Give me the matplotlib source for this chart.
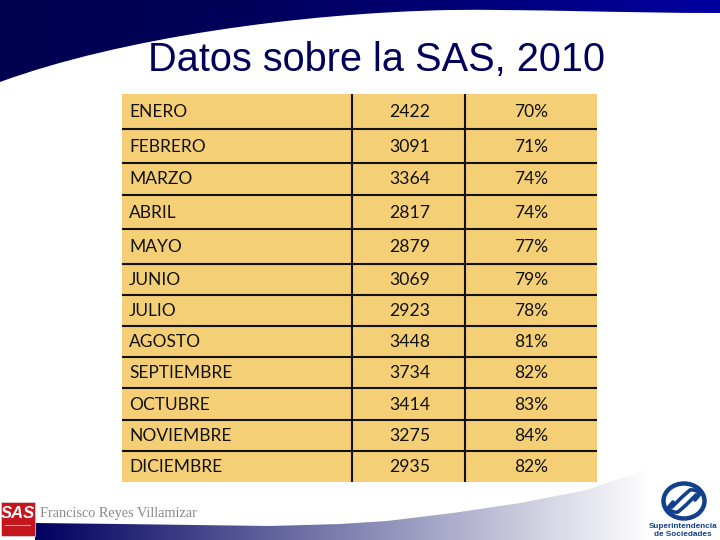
import matplotlib
matplotlib.use("Agg")
import matplotlib.pyplot as plt
import numpy as np
from matplotlib.path import Path
from matplotlib.patches import PathPatch, Rectangle, Ellipse
from matplotlib.colors import LinearSegmentedColormap

months = ["ENERO", "FEBRERO", "MARZO", "ABRIL", "MAYO", "JUNIO", "JULIO",
          "AGOSTO", "SEPTIEMBRE", "OCTUBRE", "NOVIEMBRE", "DICIEMBRE"]
counts = [2422, 3091, 3364, 2817, 2879, 3069, 2923, 3448, 3734, 3414, 3275, 2935]
percents = [70, 71, 74, 74, 77, 79, 78, 81, 82, 83, 84, 82]

# row edges in pixels, the rows are not all the same height
row_edges = [94, 129, 163, 195, 229, 264, 295, 326, 357, 388, 420, 451, 482]

fig = plt.figure(figsize=(7.2, 5.4), dpi=100)
ax = fig.add_axes([0, 0, 1, 1])
ax.axis("off")

# top swoosh
top_cmap = LinearSegmentedColormap.from_list("top", ["#000050", "#00005a", "#00007a", "#0000a0"])
top_codes = [Path.MOVETO, Path.LINETO, Path.LINETO, Path.CURVE4, Path.CURVE4, Path.CURVE4,
             Path.CURVE4, Path.CURVE4, Path.CURVE4, Path.LINETO, Path.CLOSEPOLY]
top_verts = [(0, 0), (720, 0), (720, 13), (620, 13), (530, 9), (450, 10),
             (300, 13), (120, 38), (0, 82), (0, 82), (0, 0)]
top_patch = PathPatch(Path(top_verts, top_codes), fc="none", ec="none")
ax.add_patch(top_patch)
im = ax.imshow(np.linspace(0, 1, 256).reshape(1, -1), extent=(0, 720, 90, 0), cmap=top_cmap, aspect="auto")
im.set_clip_path(top_patch)

# bottom swoosh
bottom_cmap = LinearSegmentedColormap.from_list("bottom", ["#000060", "#ffffff"])
bottom_verts = [(35, 540), (35, 523), (120, 524), (270, 526), (340, 524), (387, 521), (453, 513),
                (520, 503), (587, 490), (650, 468), (650, 540), (35, 540)]
bottom_patch = PathPatch(Path(bottom_verts), fc="none", ec="none")
ax.add_patch(bottom_patch)
im2 = ax.imshow(np.linspace(0, 1, 256).reshape(1, -1), extent=(35, 650, 540, 460), cmap=bottom_cmap, aspect="auto")
im2.set_clip_path(bottom_patch)
ax.set_xlim(0, 720)
ax.set_ylim(540, 0)

ax.text(376, 60, "Datos sobre la SAS, 2010", family="Liberation Sans", fontsize=28.6,
        color="#00005a", ha="center", va="center")

# table
ax.add_patch(Rectangle((122, 94), 475, 388, fc="#f5cf75", ec="none"))
for y in row_edges[1:-1]:
    ax.plot([122, 597], [y, y], color="#111111", lw=1.5, solid_capstyle="butt")
for x in [352, 465]:
    ax.plot([x, x], [94, 482], color="#111111", lw=1.5, solid_capstyle="butt")

for i in range(len(months)):
    y = (row_edges[i] + row_edges[i + 1]) / 2 + 0.5
    ax.text(129, y, months[i], family="Lato", fontsize=12.5, color="#111111", ha="left", va="center")
    ax.text(389, y, str(counts[i]), family="Lato", fontsize=12.7, color="#111111", ha="left", va="center")
    ax.text(514, y, str(percents[i]) + "%", family="Lato", fontsize=12.5, color="#111111", ha="left", va="center")

# footer
ax.add_patch(Rectangle((1, 502), 34, 34, fc="#c4161c", ec="#dddddd", lw=0.5))
ax.text(18, 513, "SAS", family="Liberation Sans", fontsize=12, weight="bold", style="italic",
        color="white", ha="center", va="center")
ax.plot([5, 30], [525, 525], color="#f0a0a0", lw=0.8)
ax.text(40, 514, "Francisco Reyes Villamizar", family="Liberation Serif", fontsize=10.3,
        color="#888888", ha="left", va="center")

# logo right
logo_color = "#12408c"
ax.add_patch(Ellipse((684, 501), 41, 35, fc="none", ec=logo_color, lw=3.2))
hook_a = Path([(672, 507), (682, 497), (690, 490), (696, 489), (700, 494), (695, 500)],
              [Path.MOVETO, Path.LINETO, Path.LINETO, Path.CURVE3, Path.CURVE3, Path.LINETO])
hook_b = Path([(696, 495), (686, 505), (678, 512), (672, 513), (668, 508), (673, 502)],
              [Path.MOVETO, Path.LINETO, Path.LINETO, Path.CURVE3, Path.CURVE3, Path.LINETO])
for hook in [hook_a, hook_b]:
    ax.add_patch(PathPatch(hook, fc="none", ec=logo_color, lw=2.6, capstyle="round"))
ax.text(683, 526, "Superintendencia", family="Liberation Sans", fontsize=5.9, weight="bold",
        color=logo_color, ha="center", va="center")
ax.text(683, 535, "de Sociedades", family="Liberation Sans", fontsize=5.9, weight="bold",
        color=logo_color, ha="center", va="center")

fig.savefig("out.png", dpi=100)
